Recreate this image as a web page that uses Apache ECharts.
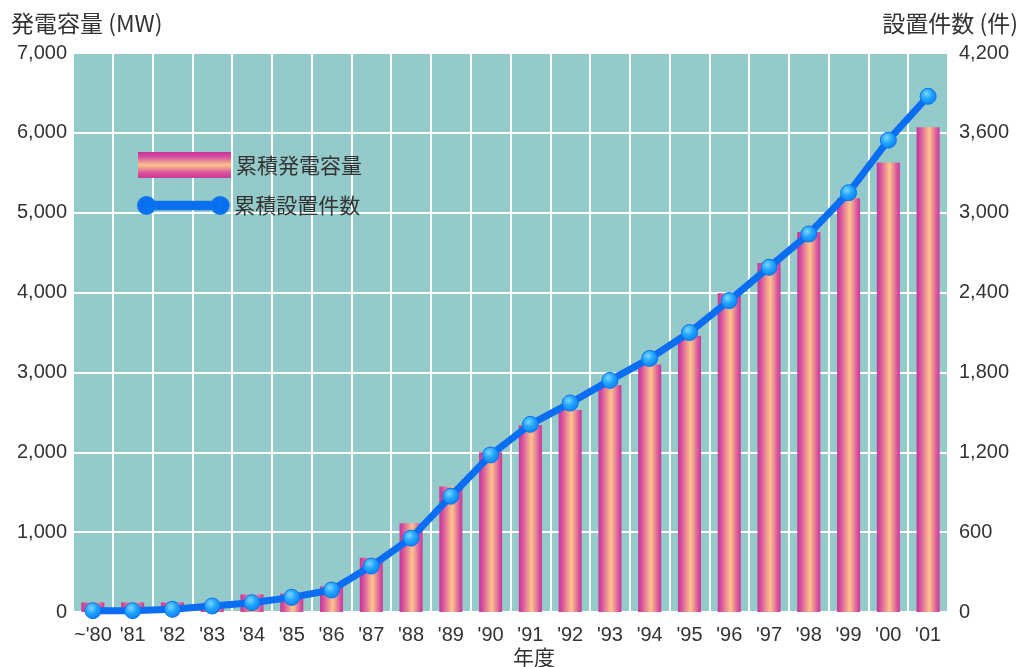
<!DOCTYPE html>
<html>
<head>
<meta charset="utf-8">
<script src="https://cdn.jsdelivr.net/npm/echarts@6/dist/echarts.min.js"></script>
<style>
  html, body { margin: 0; padding: 0; background: #ffffff; }
  #chart { width: 1026px; height: 667px; }
</style>
</head>
<body>
<div id="chart"></div>
<script>
// 年度
const years = ["~'80", "'81", "'82", "'83", "'84", "'85", "'86", "'87", "'88", "'89", "'90",
               "'91", "'92", "'93", "'94", "'95", "'96", "'97", "'98", "'99", "'00", "'01"];
// 累積発電容量 (MW)
const capacityMW = [120, 120, 120, 110, 220, 230, 320, 680, 1110, 1570, 2000,
                    2340, 2530, 2840, 3100, 3460, 3990, 4370, 4760, 5180, 5630, 6070];
// 累積設置件数 (件)
const installCount = [10, 10, 20, 45, 70, 110, 165, 345, 555, 870, 1180,
                      1410, 1570, 1740, 1905, 2100, 2340, 2590, 2840, 3150, 3545, 3875];

const labelFont = '"Liberation Sans", "Noto Sans CJK JP", sans-serif';
const jpFont = '"Noto Sans CJK JP", "Liberation Sans", sans-serif';
const textColor = '#333333';

// vertical stripes on each bar: magenta edges, peach centre
const barGradient = new echarts.graphic.LinearGradient(0, 0, 1, 0, [
  { offset: 0, color: '#c8349a' },
  { offset: 0.15, color: '#d6509e' },
  { offset: 0.55, color: '#ffc58c' },
  { offset: 0.88, color: '#d8529e' },
  { offset: 1, color: '#c93898' }
]);
const barLegendGradient = new echarts.graphic.LinearGradient(0, 0, 0, 1, [
  { offset: 0, color: '#c8349a' },
  { offset: 0.2, color: '#d6509e' },
  { offset: 0.5, color: '#ffc58c' },
  { offset: 0.8, color: '#d8529e' },
  { offset: 1, color: '#c93898' }
]);
const markerGradient = new echarts.graphic.RadialGradient(0.4, 0.35, 0.7, [
  { offset: 0, color: '#7fd6ff' },
  { offset: 0.45, color: '#22a6ff' },
  { offset: 1, color: '#0a7cf0' }
]);

const chart = echarts.init(document.getElementById('chart'), null, { renderer: 'canvas' });

chart.setOption({
  animation: false,
  backgroundColor: '#ffffff',
  title: [
    { text: '発電容量 (MW)', left: 6, top: 7,
      textStyle: { fontFamily: jpFont, fontSize: 23, fontWeight: 'normal', color: textColor } },
    { text: '設置件数 (件)', right: 3, top: 7,
      textStyle: { fontFamily: jpFont, fontSize: 23, fontWeight: 'normal', color: textColor } },
    { text: '年度', left: 508, top: 642,
      textStyle: { fontFamily: jpFont, fontSize: 21, fontWeight: 'normal', color: textColor } }
  ],
  legend: [
    {
      left: 133, top: 147, itemWidth: 93, itemHeight: 26, itemGap: 10,
      textStyle: { fontFamily: jpFont, fontSize: 21, color: textColor },
      data: [{ name: '累積発電容量', icon: 'rect', itemStyle: { color: barLegendGradient } }]
    },
    {
      left: 132, top: 190, itemWidth: 96, itemHeight: 17, itemGap: 10,
      textStyle: { fontFamily: jpFont, fontSize: 21, color: textColor, padding: [0, 0, 0, -2] },
      data: [{
        name: '累積設置件数',
        icon: 'path://M9,0 A9,9 0 1,0 9,18 A9,9 0 1,0 9,0 Z M87,0 A9,9 0 1,0 87,18 A9,9 0 1,0 87,0 Z M9,5 L9,13 L87,13 L87,5 Z',
        itemStyle: { color: '#0b6df2' }
      }]
    }
  ],
  grid: {
    left: 73, right: 78, top: 53, bottom: 55,
    show: true, backgroundColor: '#95cacb', borderWidth: 0
  },
  xAxis: {
    type: 'category',
    data: years,
    boundaryGap: true,
    axisLine: { show: false },
    axisTick: { show: false },
    splitLine: { show: true, lineStyle: { color: '#ffffff', width: 2 } },
    axisLabel: { fontFamily: labelFont, fontSize: 20, color: textColor, margin: 13, interval: 0 }
  },
  yAxis: [
    {
      type: 'value', min: 0, max: 7000, interval: 1000,
      axisLine: { show: false }, axisTick: { show: false },
      splitLine: { show: true, lineStyle: { color: '#ffffff', width: 2 } },
      axisLabel: { fontFamily: labelFont, fontSize: 20, color: textColor, margin: 6 }
    },
    {
      type: 'value', min: 0, max: 4200, interval: 600, position: 'right',
      axisLine: { show: false }, axisTick: { show: false },
      splitLine: { show: false },
      axisLabel: { fontFamily: labelFont, fontSize: 20, color: textColor, margin: 11 }
    }
  ],
  series: [
    {
      name: '累積発電容量',
      type: 'bar',
      yAxisIndex: 0,
      data: capacityMW,
      barWidth: '58%',
      itemStyle: { color: barGradient },
      z: 2
    },
    {
      name: '累積設置件数',
      type: 'line',
      yAxisIndex: 1,
      data: installCount,
      symbol: 'circle',
      symbolSize: 16,
      showAllSymbol: true,
      lineStyle: { color: '#0b6df2', width: 7 },
      itemStyle: { color: markerGradient, borderColor: '#0a74ee', borderWidth: 1 },
      z: 3
    }
  ]
});
</script>
</body>
</html>
